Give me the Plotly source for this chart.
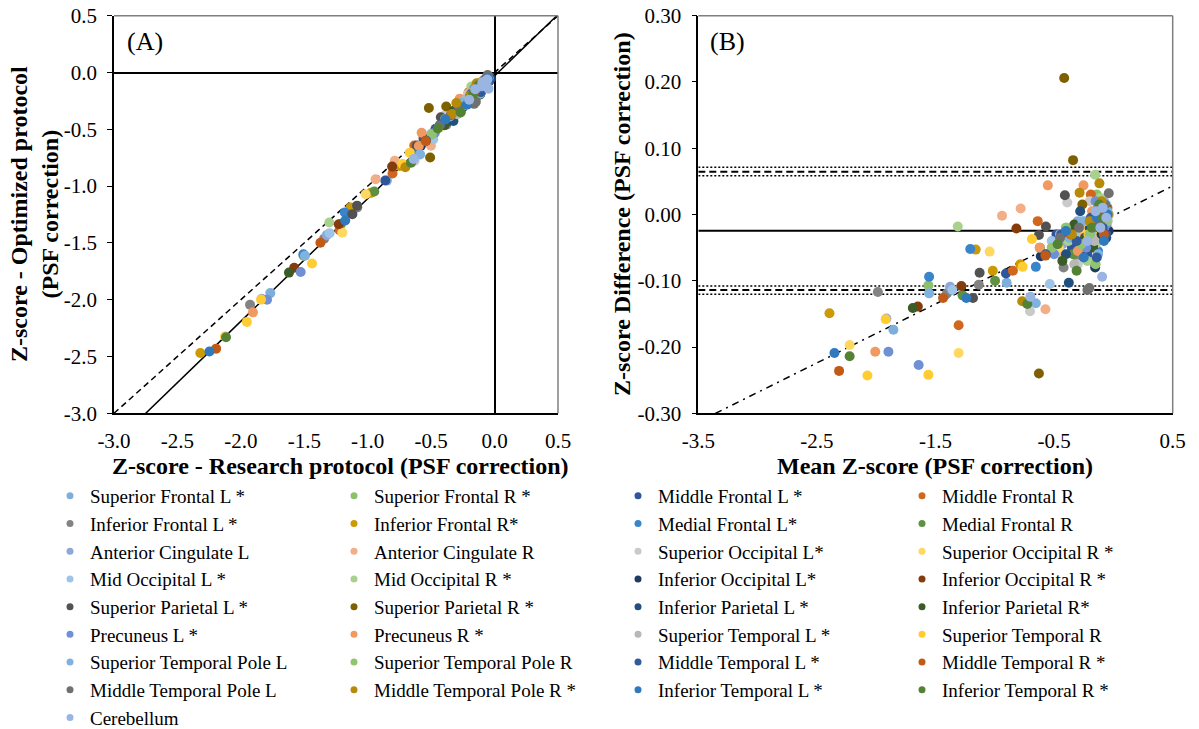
import numpy as np
import plotly.graph_objects as go

FONT = "Liberation Serif, Times New Roman, serif"
W, H = 1199, 729

# ---------------------------------------------------------------------------
# Regions (legend order) and their marker colours
# ---------------------------------------------------------------------------
REGION_NAMES = [
    "Superior Frontal L *", "Superior Frontal R *", "Middle Frontal L *", "Middle Frontal R",
    "Inferior Frontal L *", "Inferior Frontal R*", "Medial Frontal L*", "Medial Frontal R",
    "Anterior Cingulate L", "Anterior Cingulate R", "Superior Occipital L*", "Superior Occipital R *",
    "Mid Occipital L *", "Mid Occipital R *", "Inferior Occipital L*", "Inferior Occipital R *",
    "Superior Parietal L *", "Superior Parietal R *", "Inferior Parietal L *", "Inferior Parietal R*",
    "Precuneus L *", "Precuneus R *", "Superior Temporal L *", "Superior Temporal R",
    "Superior Temporal Pole L", "Superior Temporal Pole R", "Middle Temporal L *", "Middle Temporal R *",
    "Middle Temporal Pole L", "Middle Temporal Pole R *", "Inferior Temporal L *", "Inferior Temporal R *",
    "Cerebellum",
]

REGION_COLORS = [
    "#7DAEDC", "#8DC06A", "#2F559A", "#D2661C",
    "#838383", "#CC9A04", "#3A84CC", "#5E9140",
    "#8EA8DA", "#F2AE86", "#CACACA", "#FFD862",
    "#9EC4E8", "#A9D18E", "#203A66", "#843C0C",
    "#525252", "#7F6000", "#22507E", "#3B5C26",
    "#6F91D3", "#F09A62", "#B8B8B8", "#FFCC33",
    "#80B2E0", "#90C46E", "#325A9E", "#C05A14",
    "#707070", "#B88A0A", "#3079BC", "#548235",
    "#9AB5E2",
]

# ---------------------------------------------------------------------------
# Per-region values: (mean Z-score of both protocols, difference optimized - research)
# ---------------------------------------------------------------------------
sup_frontal_l = ([-1.855, -0.900, -0.45, -0.32, -0.20, -0.12, -0.08],
                 [-0.174, -0.103, -0.04, -0.02, -0.05, -0.03, 0.00])
sup_frontal_r = ([-1.560, -0.40, -0.28, -0.18, -0.14, -0.10, -0.05],
                 [-0.107, -0.02, -0.04, -0.07, 0.03, 0.02, -0.01])
mid_frontal_l = ([-0.906, -0.48, -0.35, -0.22, -0.13, -0.08, -0.06],
                 [-0.089, -0.03, -0.05, -0.06, 0.005, -0.01, -0.02])
mid_frontal_r = ([-1.305, -0.847, -0.638, -0.26, -0.19, -0.10, -0.05],
                 [-0.167, -0.085, -0.010, -0.045, 0.03, -0.035, 0.01])
inf_frontal_l = ([-1.986, -1.403, -1.135, -0.42, -0.30, -0.12, -0.07],
                 [-0.117, -0.119, -0.106, -0.08, -0.07, -0.02, 0.00])
inf_frontal_r = ([-2.394, -1.161, -1.017, -0.785, -0.58, -0.15, -0.04],
                 [-0.149, -0.053, -0.085, -0.075, -0.06, -0.01, 0.00])
med_frontal_l = ([-1.554, -1.207, -0.654, -0.28, -0.13, -0.09, -0.06],
                 [-0.094, -0.052, -0.079, -0.02, -0.055, 0.01, 0.012])
med_frontal_r = ([-1.272, -0.998, -0.62, -0.34, -0.22, -0.11, -0.07],
                 [-0.122, -0.100, -0.05, -0.06, -0.02, -0.015, 0.005])
ant_cingulate_l = ([-1.914, -1.377, -0.43, -0.30, -0.16, -0.08, -0.05],
                   [-0.157, -0.109, -0.045, -0.01, -0.025, 0.02, -0.005])
ant_cingulate_r = ([-0.939, -0.782, -0.573, -0.42, -0.25, -0.10, -0.06],
                   [-0.002, 0.009, -0.143, -0.06, -0.03, 0.01, -0.015])
sup_occipital_l = ([-0.703, -0.389, -0.30, -0.20, -0.14, -0.08, -0.05],
                   [-0.146, 0.018, -0.075, 0.02, -0.04, 0.00, -0.02])
sup_occipital_r = ([-2.224, -1.305, -1.044, -0.46, -0.26, -0.11, -0.07],
                   [-0.197, -0.209, -0.056, -0.05, -0.02, -0.03, 0.01])
mid_occipital_l = ([-1.357, -0.536, -0.52, -0.33, -0.19, -0.09, -0.06],
                   [-0.114, -0.105, -0.04, -0.03, -0.02, -0.01, 0.015])
mid_occipital_r = ([-1.312, -0.38, -0.22, -0.154, -0.15, -0.11, -0.07],
                   [-0.018, -0.04, -0.07, 0.060, -0.045, 0.025, -0.02])
inf_occipital_l = ([-0.612, -0.28, -0.17, -0.154, -0.10, -0.07, -0.04],
                   [-0.063, -0.055, 0.00, -0.080, -0.03, -0.01, -0.025])
inf_occipital_r = ([-1.649, -1.282, -0.818, -0.34, -0.25, -0.12, -0.06],
                   [-0.139, -0.108, -0.021, -0.02, -0.045, -0.005, 0.01])
sup_parietal_l = ([-1.184, -1.128, -0.628, -0.569, -0.409, -0.16, -0.08],
                  [-0.126, -0.088, -0.031, -0.018, 0.029, 0.00, -0.02])
sup_parietal_r = ([-0.628, -0.415, -0.340, -0.262, -0.11, -0.09, -0.08, -0.065, -0.06],
                  [-0.240, 0.206, 0.082, 0.015, -0.01, 0.00, 0.008, 0.012, -0.005])
inf_parietal_l = ([-0.40, -0.376, -0.28, -0.20, -0.13, -0.09, -0.06],
                  [-0.06, -0.103, 0.005, -0.02, 0.01, -0.005, -0.035])
inf_parietal_r = ([-1.691, -0.43, -0.33, -0.24, -0.17, -0.12, -0.07],
                  [-0.141, -0.07, -0.015, -0.035, -0.05, -0.02, 0.005])
precuneus_l = ([-1.897, -1.642, -0.50, -0.23, -0.15, -0.10, -0.06],
               [-0.207, -0.227, -0.06, -0.05, 0.02, -0.01, -0.015])
precuneus_r = ([-2.008, -0.622, -0.553, -0.30, -0.252, -0.18, -0.09],
               [-0.207, -0.050, 0.044, -0.055, 0.044, 0.005, -0.02])
sup_temporal_l = ([-0.45, -0.33, -0.24, -0.16, -0.11, -0.07, -0.05],
                  [-0.03, -0.075, -0.01, -0.04, -0.02, 0.005, -0.01])
sup_temporal_r = ([-2.074, -1.920, -1.560, -0.765, -0.687, -0.21, -0.12],
                  [-0.243, -0.158, -0.242, -0.079, -0.037, -0.03, 0.00])
sup_temp_pole_l = ([-1.554, -0.654, -0.37, -0.26, -0.13, -0.08, -0.05],
                   [-0.119, -0.134, -0.035, -0.01, -0.06, -0.025, 0.005])
sup_temp_pole_r = ([-0.52, -0.40, -0.27, -0.20, -0.15, -0.10, -0.06],
                   [-0.05, -0.02, -0.045, -0.03, -0.075, 0.005, -0.01])
mid_temporal_l = ([-0.57, -0.44, -0.31, -0.19, -0.14, -0.09, -0.06],
                  [-0.06, -0.03, -0.04, -0.005, -0.065, -0.02, -0.03])
mid_temporal_r = ([-2.313, -1.436, -0.573, -0.36, -0.17, -0.11, -0.08],
                  [-0.236, -0.126, -0.062, -0.03, -0.015, 0.00, -0.03])
mid_temp_pole_l = ([-0.45, -0.29, -0.219, -0.203, -0.12, -0.07, -0.039],
                   [-0.035, -0.02, -0.114, -0.111, -0.01, 0.015, 0.032])
mid_temp_pole_r = ([-0.769, -0.35, -0.285, -0.20, -0.118, -0.10, -0.07],
                   [-0.131, -0.03, 0.033, -0.01, 0.047, 0.02, -0.005])
inf_temporal_l = ([-2.352, -1.240, -0.40, -0.25, -0.14, -0.08, -0.05],
                  [-0.209, -0.126, -0.025, -0.065, -0.005, -0.04, 0.00])
inf_temporal_r = ([-2.224, -0.726, -0.47, -0.31, -0.18, -0.12, -0.09],
                  [-0.214, -0.135, -0.045, -0.085, -0.02, 0.015, -0.005])
cerebellum = ([-0.700, -0.22, -0.15, -0.11, -0.095, -0.09, -0.06],
              [-0.124, -0.04, 0.005, -0.02, -0.094, 0.01, -0.005])

REGION_VALUES = [
    sup_frontal_l, sup_frontal_r, mid_frontal_l, mid_frontal_r,
    inf_frontal_l, inf_frontal_r, med_frontal_l, med_frontal_r,
    ant_cingulate_l, ant_cingulate_r, sup_occipital_l, sup_occipital_r,
    mid_occipital_l, mid_occipital_r, inf_occipital_l, inf_occipital_r,
    sup_parietal_l, sup_parietal_r, inf_parietal_l, inf_parietal_r,
    precuneus_l, precuneus_r, sup_temporal_l, sup_temporal_r,
    sup_temp_pole_l, sup_temp_pole_r, mid_temporal_l, mid_temporal_r,
    mid_temp_pole_l, mid_temp_pole_r, inf_temporal_l, inf_temporal_r,
    cerebellum,
]

# Summary statistics
A_SLOPE, A_INTERCEPT = 1.08, -0.03            # optimized vs research regression
BIAS = -0.0245                                # mean difference
LOA_UPPER, LOA_UPPER_CI = 0.0646, (0.0586, 0.0712)
LOA_LOWER, LOA_LOWER_CI = -0.1139, (-0.1204, -0.1079)
BA_SLOPE, BA_INTERCEPT = 0.089, -0.0015       # proportional bias regression

# Axis ticks
A_TICKS = [-3.0, -2.5, -2.0, -1.5, -1.0, -0.5, 0.0, 0.5]
B_XTICKS = [-3.5, -2.5, -1.5, -0.5, 0.5]
B_YTICKS = [-0.30, -0.20, -0.10, 0.00, 0.10, 0.20, 0.30]

# ---------------------------------------------------------------------------
fig = go.Figure()

# Panel A reference lines
xa = np.array([-3.0, 0.5])
fig.add_trace(go.Scatter(x=xa, y=xa, mode="lines", xaxis="x", yaxis="y",
                         line=dict(color="black", width=1.5, dash="6px,4px"),
                         showlegend=False, hoverinfo="skip"))
fig.add_trace(go.Scatter(x=xa, y=A_SLOPE * xa + A_INTERCEPT, mode="lines", xaxis="x", yaxis="y",
                         line=dict(color="black", width=1.5),
                         showlegend=False, hoverinfo="skip"))

# Panel B reference lines
xb = np.array([-3.5, 0.5])
for val, dash, width in [
    (BIAS, "solid", 2),
    (LOA_UPPER, "7px,4px", 2), (LOA_UPPER_CI[0], "2px,2px", 1.5), (LOA_UPPER_CI[1], "2px,2px", 1.5),
    (LOA_LOWER, "7px,4px", 2), (LOA_LOWER_CI[0], "2px,2px", 1.5), (LOA_LOWER_CI[1], "2px,2px", 1.5),
]:
    fig.add_trace(go.Scatter(x=xb, y=[val, val], mode="lines", xaxis="x2", yaxis="y2",
                             line=dict(color="black", width=width, dash=dash),
                             showlegend=False, hoverinfo="skip"))
fig.add_trace(go.Scatter(x=xb, y=BA_SLOPE * xb + BA_INTERCEPT, mode="lines", xaxis="x2", yaxis="y2",
                         line=dict(color="black", width=1.5, dash="7px,5px,2px,5px"),
                         showlegend=False, hoverinfo="skip"))

# Region scatter points in both panels
for name, color, (mean_z, diff_z) in zip(REGION_NAMES, REGION_COLORS, REGION_VALUES):
    mean_z = np.asarray(mean_z)
    diff_z = np.asarray(diff_z)
    research = mean_z - diff_z / 2
    optimized = mean_z + diff_z / 2
    marker = dict(color=color, size=10, line=dict(width=0))
    fig.add_trace(go.Scatter(x=research, y=optimized, mode="markers", xaxis="x", yaxis="y",
                             marker=marker, showlegend=False, name=name))
    fig.add_trace(go.Scatter(x=mean_z, y=diff_z, mode="markers", xaxis="x2", yaxis="y2",
                             marker=marker, showlegend=False, name=name))
    # legend key
    fig.add_trace(go.Scatter(x=[None], y=[None], mode="markers", xaxis="x", yaxis="y",
                             marker=dict(color=color, size=7), name=name))

# ---------------------------------------------------------------------------
y_dom = [(H - 413.3) / H, (H - 15.7) / H]
tickfont = dict(family=FONT, size=21, color="black")
common = dict(showgrid=False, showline=True, linecolor="black", linewidth=1.5,
              tickfont=tickfont)

fig.update_layout(
    width=W, height=H,
    margin=dict(l=0, r=0, t=0, b=0, autoexpand=False),
    paper_bgcolor="white", plot_bgcolor="white",
    font=dict(family=FONT, size=18, color="black"),
    xaxis=dict(domain=[114 / W, 558 / W], range=[-3.0, 0.5], anchor="y",
               tickvals=A_TICKS, ticktext=[f"{v:.1f}" for v in A_TICKS],
               zeroline=True, zerolinecolor="black", zerolinewidth=1.5, ticks="",
               ticklabelstandoff=8, **common),
    yaxis=dict(domain=y_dom, range=[-3.0, 0.5], anchor="x",
               tickvals=A_TICKS, ticktext=[f"{v:.1f}" for v in A_TICKS],
               zeroline=True, zerolinecolor="black", zerolinewidth=1.5,
               ticks="outside", ticklen=5, tickcolor="black", ticklabelstandoff=6, **common),
    xaxis2=dict(domain=[698.3 / W, 1172.7 / W], range=[-3.5, 0.5], anchor="y2",
                tickvals=B_XTICKS, ticktext=[f"{v:.1f}" for v in B_XTICKS],
                zeroline=False, ticks="", ticklabelstandoff=8, **common),
    yaxis2=dict(domain=y_dom, range=[-0.30, 0.30], anchor="x2",
                tickvals=B_YTICKS, ticktext=[f"{v:.2f}" for v in B_YTICKS],
                zeroline=False, ticks="outside", ticklen=5, tickcolor="black",
                ticklabelstandoff=6, **common),
    legend=dict(orientation="h", x=50 / W, xanchor="left", y=(H - 477) / H, yanchor="top",
                entrywidth=239, entrywidthmode="pixels", font=dict(family=FONT, size=19),
                tracegroupgap=0, bgcolor="rgba(0,0,0,0)", itemclick=False, itemdoubleclick=False),
    showlegend=True,
)

# Plot-area frame (top and right edges)
for xr, yr in [("x", "y"), ("x2", "y2")]:
    fig.add_shape(type="line", xref=f"{xr} domain", yref=f"{yr} domain", x0=0, x1=1, y0=1, y1=1,
                  line=dict(color="#7f7f7f", width=1.5))
    fig.add_shape(type="line", xref=f"{xr} domain", yref=f"{yr} domain", x0=1, x1=1, y0=0, y1=1,
                  line=dict(color="#7f7f7f", width=1.5))

title_font = dict(family=FONT, size=24, color="black")
annotations = [
    dict(text="(A)", x=145 / W, y=(H - 42) / H, font=dict(family=FONT, size=26, color="black")),
    dict(text="(B)", x=727 / W, y=(H - 42) / H, font=dict(family=FONT, size=26, color="black")),
    dict(text="<b>Z-score - Research protocol (PSF correction)</b>", x=340 / W, y=(H - 466) / H,
         font=title_font),
    dict(text="<b>Mean Z-score (PSF correction)</b>", x=935 / W, y=(H - 466) / H, font=title_font),
    dict(text="<b>Z-score - Optimized protocol<br>(PSF correction)</b>", x=35 / W, y=(H - 214) / H,
         textangle=-90, font=title_font),
    dict(text="<b>Z-score Difference (PSF correction)</b>", x=622 / W, y=(H - 214) / H,
         textangle=-90, font=title_font),
]
for a in annotations:
    fig.add_annotation(xref="paper", yref="paper", showarrow=False,
                       xanchor="center", yanchor="middle", **a)

fig.write_html("out.html")
